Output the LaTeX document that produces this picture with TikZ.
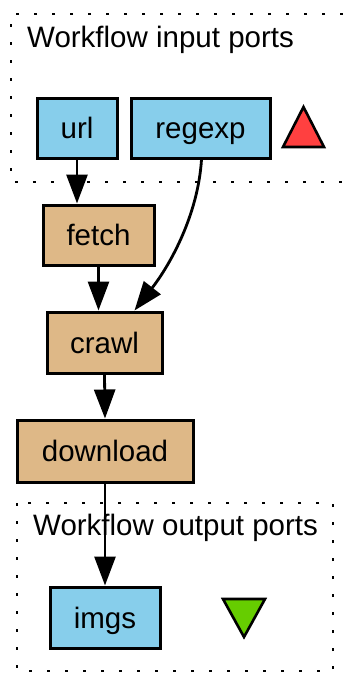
\documentclass[tikz,border=0pt]{standalone}
\usepackage{fontspec}
\setmainfont{Liberation Sans}
\usetikzlibrary{arrows.meta}
\definecolor{portblue}{RGB}{135,206,235}
\definecolor{proctan}{RGB}{222,184,135}
\definecolor{inred}{RGB}{255,64,64}
\definecolor{outgreen}{RGB}{102,205,0}
\tikzset{
  box/.style={draw=black, line width=3pt, inner sep=0pt, text height=21pt, text depth=0pt, font=\fontsize{29.5}{34}\selectfont},
  port/.style={box, fill=portblue},
  proc/.style={box, fill=proctan},
  flow/.style={draw=black, line width=2.8pt, -{Triangle[length=29pt,width=21pt]}},
  cluster/.style={draw=black, line width=2.6pt, dash pattern=on 2.6pt off 15.4pt},
  title/.style={inner sep=0pt, anchor=base west, font=\fontsize{29.5}{34}\selectfont},
  tri/.style={draw=black, line width=2.6pt, line join=miter}
}
\begin{document}
\begin{tikzpicture}[x=1pt,y=-1pt]
\useasboundingbox (0,0) rectangle (343,673);
% clusters
\draw[cluster] (343,14) -- (11,14) -- (11,182) -- (343,182);
\draw[cluster] (17,503) rectangle (333,671);
\node[title] (intitle) at (27,47) {Workflow input ports};
\node[title] (outtitle) at (33,535) {Workflow output ports};
% nodes
\node[port, minimum width=80pt, minimum height=60pt] (url) at (77,128) {url};
\node[port, minimum width=139pt, minimum height=60pt] (regexp) at (200.5,128) {regexp};
\node[proc, minimum width=111pt, minimum height=60pt] (fetch) at (98.5,235) {fetch};
\node[proc, minimum width=115pt, minimum height=61pt] (crawl) at (104.5,342.5) {crawl};
\node[proc, minimum width=176pt, minimum height=62pt] (download) at (105,451) {download};
\node[port, minimum width=110pt, minimum height=61pt] (imgs) at (105,617.5) {imgs};
% triangles
\draw[tri, fill=inred] (283,147) -- (324,147) -- (303.5,107) -- cycle;
\draw[tri, fill=outgreen] (223,599) -- (265,599) -- (244,637) -- cycle;
% edges
\draw[flow] (url.south) -- (url.south |- fetch.north);
\draw[flow] (fetch.south) -- (fetch.south |- crawl.north);
\draw[flow] (crawl.south) -- (download.north);
\draw[flow] (download.south) -- (imgs.north);
\coordinate (rx) at ([xshift=1pt]regexp.south);
\coordinate (cx) at ([xshift=30pt]crawl.north);
\draw[flow] (rx) .. controls (198,215) and (170,265) .. (cx);
\end{tikzpicture}
\end{document}
